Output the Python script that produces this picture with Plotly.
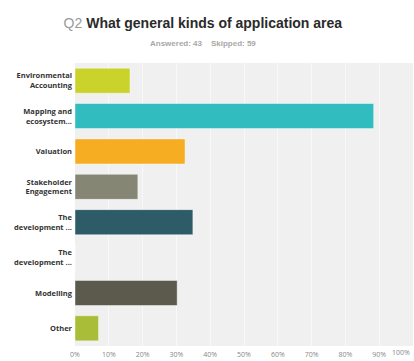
import plotly.graph_objects as go

categories = ["Environmental<br>Accounting", "Mapping and<br>ecosystem...", "Valuation",
              "Stakeholder<br>Engagement", "The<br>development ...", "The<br>development ...",
              "Modelling", "Other"]
values = [16.28, 88.37, 32.56, 18.60, 34.88, 0.0, 30.23, 6.98]
colors = ["#cad32b", "#31bcbf", "#f6ad21", "#868674", "#2d5c68", "#a8a8a8", "#5b5a4c", "#a9bd38"]
xtick_vals = [0, 10, 20, 30, 40, 50, 60, 70, 80, 90, 100]
xtick_text = ["0%", "10%", "20%", "30%", "40%", "50%", "60%", "70%", "80%", "90%", ""]
last_tick_label = "100%"

ypos = list(range(len(categories)))

fig = go.Figure()
fig.add_trace(go.Bar(
    x=values, y=ypos, orientation="h",
    marker=dict(color=colors, line=dict(color="rgba(255,255,255,0.45)", width=1)),
    width=0.71, hoverinfo="skip",
))

fig.update_layout(
    width=414, height=361,
    margin=dict(l=75, r=1, t=63, b=15),
    paper_bgcolor="white", plot_bgcolor="#f0f0f0",
    showlegend=False,
    title=dict(
        text="<span style='color:#9a9a9a;font-weight:normal'>Q2</span> <b>What general kinds of application area</b>",
        x=0.49, xanchor="center", y=0.937, yanchor="middle",
        font=dict(family="Liberation Sans, Arial", size=14, color="#2a2a2a"),
    ),
    annotations=[
        dict(
            text="<b>Answered: 43&nbsp;&nbsp;&nbsp;&nbsp;Skipped: 59</b>",
            x=(203 - 75) / 338, xref="paper", y=(361 - 15 - 44) / (361 - 63 - 15), yref="paper",
            yanchor="middle", showarrow=False,
            font=dict(family="Liberation Sans, Arial", size=8, color="#a8a8a8"),
        ),
        dict(
            text=last_tick_label, x=xtick_vals[-1], xref="x", xanchor="right", xshift=-1,
            y=0, yref="paper", yanchor="top", yshift=0, showarrow=False,
            font=dict(family="Open Sans, Arial", size=7, color="#888888"),
        ),
    ],
    xaxis=dict(
        range=[0, 100], tickvals=xtick_vals, ticktext=xtick_text,
        showgrid=True, gridcolor="#f8f8f8", gridwidth=1, zeroline=False,
        tickfont=dict(family="Open Sans, Arial", size=7, color="#888888"),
        ticks="", ticklabelstandoff=3, fixedrange=True,
        automargin=False,
    ),
    yaxis=dict(
        tickvals=ypos, ticktext=categories, range=[7.5, -0.5],
        showgrid=False, zeroline=False, ticks="",
        tickfont=dict(family="Open Sans, Arial", size=7.5, color="#333333", weight="bold"),
        ticklabelstandoff=2, automargin=False,
    ),
    bargap=0.29,
)

fig.write_html("out.html")
